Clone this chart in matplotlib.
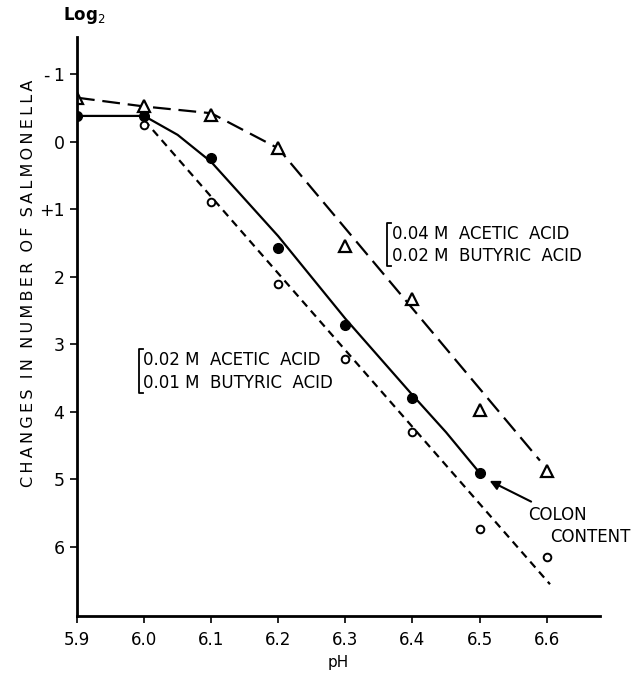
import matplotlib
matplotlib.use("Agg")
import matplotlib.pyplot as plt

# data (log2 change, axis inverted)
ph = [5.9, 6.0, 6.1, 6.2, 6.3, 6.4, 6.5, 6.6]
high_acid = [-0.65, -0.52, -0.4, 0.1, 1.54, 2.33, 3.97, 4.87]      # triangles
colon = [-0.38, -0.38, 0.25, 1.57, 2.72, 3.8, 4.91]                 # filled circles
low_acid_ph = [6.0, 6.1, 6.2, 6.3, 6.4, 6.5, 6.6]
low_acid = [-0.25, 0.9, 2.1, 3.22, 4.3, 5.73, 6.15]                # open circles

# hand-drawn fit lines
high_fit_ph = [5.9, 6.0, 6.1, 6.2, 6.59]
high_fit = [-0.65, -0.52, -0.42, 0.1, 4.72]
colon_fit_ph = [5.9, 6.0, 6.05, 6.1, 6.2, 6.3, 6.4, 6.45, 6.5]
colon_fit = [-0.38, -0.38, -0.1, 0.3, 1.4, 2.62, 3.75, 4.3, 4.9]
low_fit_ph = [6.0, 6.605]
low_fit = [-0.32, 6.55]

yticks = [-1, 0, 1, 2, 3, 4, 5, 6]
ytick_labels = ["-\u20091", "0", "+1", "2", "3", "4", "5", "6"]
xticks = [5.9, 6.0, 6.1, 6.2, 6.3, 6.4, 6.5, 6.6]

plt.rcParams['font.family'] = ['DejaVu Sans']
fig = plt.figure(figsize=(6.32, 6.75), dpi=100)
ax = fig.add_axes([0.1218, 0.0874, 0.827, 0.858])

ax.plot(high_fit_ph, high_fit, color='black', lw=1.6, dashes=(8, 3.5))
ax.plot(colon_fit_ph, colon_fit, color='black', lw=1.6)
ax.plot(low_fit_ph, low_fit, color='black', lw=1.6, dashes=(3.5, 2.5))

ax.plot(ph, high_acid, ls='none', marker='^', ms=9, mfc='white', mec='black', mew=1.6)
ax.plot(ph[:len(colon)], colon, ls='none', marker='o', ms=7, color='black')
ax.plot(low_acid_ph, low_acid, ls='none', marker='o', ms=5.5, mfc='white', mec='black', mew=1.4)

ax.set_xlim(5.9, 6.679)
ax.set_ylim(7.02, -1.55)
for s in ['top', 'right']:
    ax.spines[s].set_visible(False)
for s in ['left', 'bottom']:
    ax.spines[s].set_linewidth(2)

ax.set_xticks(xticks)
ax.set_xticklabels([f"{v:.1f}" for v in xticks], fontsize=12)
ax.set_yticks(yticks)
ax.set_yticklabels(ytick_labels, fontsize=12.5)
ax.tick_params(axis='both', direction='out', length=5, width=1.2)
ax.tick_params(axis='y', pad=4)
ax.tick_params(axis='x', pad=6)

ax.set_xlabel("pH", fontsize=11, labelpad=4)
sp = "\u2009"
ylab = "  ".join(sp.join(w) for w in "CHANGES IN NUMBER OF SALMONELLA".split())
ax.set_ylabel(ylab, fontsize=11.5, va='center')
ax.yaxis.set_label_coords(-0.092, 0.575)

fig.text(0.133, 0.977, "Log$_2$", fontsize=12, fontweight='bold', ha='center', va='center')

# bracketed labels
def bracket(x, y0, y1):
    ax.plot([x + 0.006, x, x, x + 0.006], [y0, y0, y1, y1], color='black', lw=1.3)

bracket(6.362, 1.2, 1.84)
ax.text(6.369, 1.36, "0.04 M  ACETIC  ACID", fontsize=12, va='center', ha='left')
ax.text(6.369, 1.69, "0.02 M  BUTYRIC  ACID", fontsize=12, va='center', ha='left')

bracket(5.992, 3.07, 3.72)
ax.text(5.998, 3.23, "0.02 M  ACETIC  ACID", fontsize=12, va='center', ha='left')
ax.text(5.998, 3.57, "0.01 M  BUTYRIC  ACID", fontsize=12, va='center', ha='left')

ax.annotate("COLON", xy=(6.515, 5.02), xytext=(6.572, 5.52), fontsize=12,
            ha='left', va='center',
            arrowprops=dict(arrowstyle='-|>', color='black', lw=1.5,
                            shrinkA=2, shrinkB=0, mutation_scale=14))
ax.text(6.605, 5.85, "CONTENT", fontsize=12, ha='left', va='center')

fig.savefig("out.png", dpi=100)
